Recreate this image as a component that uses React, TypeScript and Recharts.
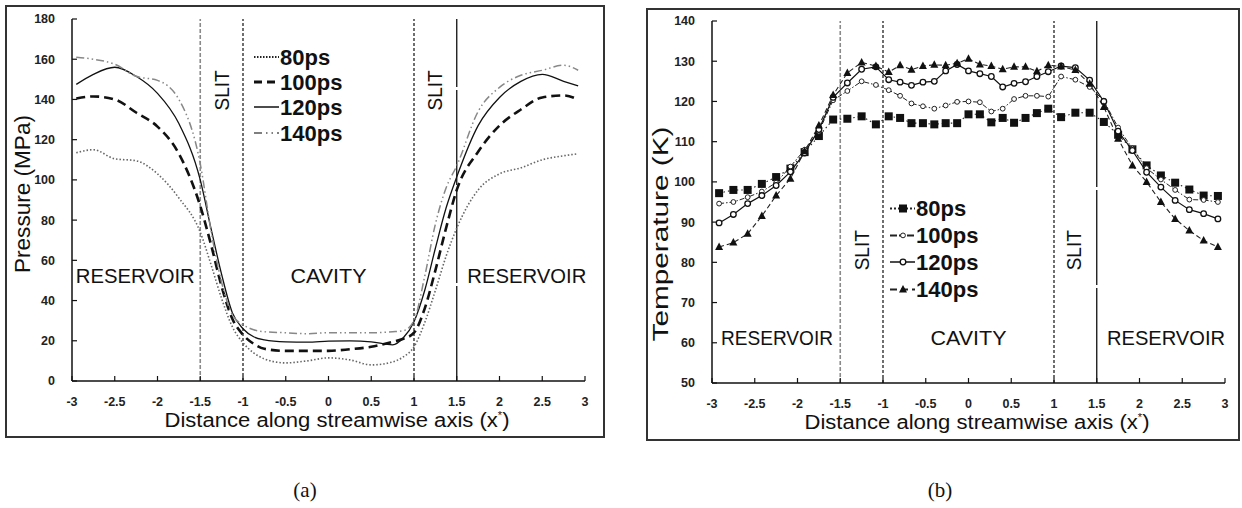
import { LineChart, Line, XAxis, YAxis, ReferenceLine, ReferenceDot, Label } from "recharts";

const FONT = '"Liberation Sans", Arial, sans-serif';

const xTicks = [-3, -2.5, -2, -1.5, -1, -0.5, 0, 0.5, 1, 1.5, 2, 2.5, 3];
const pTicks = [0, 20, 40, 60, 80, 100, 120, 140, 160, 180];
const tTicks = [50, 60, 70, 80, 90, 100, 110, 120, 130, 140];
const seriesNames = ["80ps", "100ps", "120ps", "140ps"];

// pressure (MPa) along the streamwise axis
const pX = [-2.95, -2.75, -2.5, -2.25, -2, -1.75, -1.5, -1.375, -1.25, -1.125, -1, -0.875, -0.75, -0.5, -0.25, 0, 0.25, 0.5, 0.75, 0.875, 1, 1.125, 1.25, 1.375, 1.5, 1.75, 2, 2.25, 2.5, 2.75, 2.92];
const p80 = [113.5, 115, 110.5, 109.5, 103, 91, 74, 58, 41, 27, 19, 14, 11, 9, 10, 11.5, 10.5, 8, 9.5, 12, 17, 29, 45, 62, 76, 95, 103, 106, 110, 112, 113];
const p100 = [140.5, 141.5, 140, 133.5, 126.5, 113, 87, 68, 47, 31, 23, 18.5, 16, 15, 15, 15, 15.8, 17, 19.5, 21, 24, 36, 55, 76, 95, 114, 127, 135, 141, 142, 140];
const p120 = [147.5, 152.5, 156, 151.5, 143, 128, 100, 76, 53, 34, 26, 22, 20.5, 19.5, 19.3, 19.8, 20, 19.5, 18, 21.5, 29.5, 45, 66, 86, 101.5, 127, 141, 149, 152.5, 149, 146.7];
const p140 = [161, 160, 157.5, 151.5, 149.5, 140, 108, 75, 49, 33, 28, 25.5, 24.5, 24, 23.5, 24, 24, 24, 24.5, 25, 30, 52, 78, 96, 107, 134, 146, 152, 154.5, 157, 154.5];

// temperature (K), bin centres: reservoir 1/6, slit 1/6, cavity 2/15
const tX = [-2.917, -2.75, -2.583, -2.417, -2.25, -2.083, -1.917, -1.75, -1.583, -1.417, -1.25, -1.083, -0.933, -0.8, -0.667, -0.533, -0.4, -0.267, -0.133, 0, 0.133, 0.267, 0.4, 0.533, 0.667, 0.8, 0.933, 1.083, 1.25, 1.417, 1.583, 1.75, 1.917, 2.083, 2.25, 2.417, 2.583, 2.75, 2.917];
const t80 = [97.2, 98, 98, 99.5, 101.2, 103.3, 107.4, 111.4, 115.5, 115.7, 116.3, 114.3, 116.3, 115.9, 114.6, 114.6, 114.3, 114.6, 114.6, 116.8, 116.8, 114.8, 115.9, 114.7, 115.9, 117.1, 118.2, 116.1, 117.2, 117.2, 114.9, 111.7, 108.1, 104.1, 101.6, 99.8, 98.1, 96.6, 96.5];
const t100 = [94.6, 95, 96.2, 97.6, 99.8, 103.8, 108, 112.5, 120.3, 122.6, 125, 124.1, 122.8, 121.4, 119.5, 118.8, 118.2, 119, 119.9, 120, 119.8, 117.5, 118.2, 120.6, 121.4, 121.4, 121.2, 126.2, 125.4, 123.6, 120.2, 113.5, 108.3, 103.4, 100.6, 98, 95.6, 95.5, 95];
const t120 = [89.8, 91.9, 94.6, 96.6, 99.1, 102.5, 107.2, 113, 121, 124.6, 128, 128.6, 125.4, 124.8, 124, 124.8, 125, 127.6, 129.2, 127.6, 126.9, 126.2, 123.6, 124.5, 124.9, 126.2, 127.4, 128.8, 128.4, 125.3, 120, 112.6, 107.8, 102.4, 98.7, 95.4, 93.1, 92.1, 90.8];
const t140 = [83.8, 84.9, 87.1, 91.5, 96.6, 100.8, 107.6, 114, 121.6, 127.1, 129.7, 128.8, 127.3, 129, 127.9, 128.8, 129.1, 129, 129.5, 130.6, 129.2, 128.8, 128, 128.6, 128.6, 127.5, 129, 128.7, 127.8, 124.4, 118.6, 110.7, 104.1, 100, 95, 90.8, 87.9, 85.4, 83.8];

const pressureRows = pX.map((x, i) => ({ x, s80: p80[i], s100: p100[i], s120: p120[i], s140: p140[i] }));
const tempRows = tX.map((x, i) => ({ x, s80: t80[i], s100: t100[i], s120: t120[i], s140: t140[i] }));

const tickStyle = { fill: "#222", fontSize: 12.5, fontWeight: 700, fontFamily: FONT };

function textMark(text: string, size: number, length: number, rotate = false) {
  return (props: any) => {
    const { cx, cy } = props;
    return (
      <text
        x={cx}
        y={cy}
        textAnchor="middle"
        dominantBaseline="central"
        fontFamily={FONT}
        fontSize={size}
        fill="#111"
        textLength={length}
        lengthAdjust="spacingAndGlyphs"
        transform={rotate ? `rotate(-90 ${cx} ${cy})` : undefined}
      >
        {text}
      </text>
    );
  };
}

function xTitle(cx: number, y: number) {
  return () => (
    <text x={cx} y={y} textAnchor="middle" fontFamily={FONT} fontSize={20} fill="#111" textLength={345} lengthAdjust="spacingAndGlyphs">
      Distance along streamwise axis (x<tspan fontSize={10} dy={-8}>*</tspan>
      <tspan dy={8}>)</tspan>
    </text>
  );
}

function yTitle(text: string, x: number, cy: number, length: number) {
  return () => (
    <text
      x={x}
      y={cy}
      textAnchor="middle"
      fontFamily={FONT}
      fontSize={22}
      fill="#111"
      textLength={length}
      lengthAdjust="spacingAndGlyphs"
      transform={`rotate(-90 ${x} ${cy})`}
    >
      {text}
    </text>
  );
}

function SquareDot(props: any) {
  const { cx, cy, index } = props;
  return <rect key={`sq-${index}`} x={cx - 4} y={cy - 4} width={8} height={8} fill="#111" />;
}

function OpenSmall(props: any) {
  const { cx, cy, index } = props;
  return <circle key={`os-${index}`} cx={cx} cy={cy} r={2.4} fill="#fff" stroke="#222" strokeWidth={1} />;
}

function OpenRing(props: any) {
  const { cx, cy, index } = props;
  return <circle key={`or-${index}`} cx={cx} cy={cy} r={2.8} fill="#fff" stroke="#111" strokeWidth={1.3} />;
}

function TriangleDot(props: any) {
  const { cx, cy, index } = props;
  return <polygon key={`tr-${index}`} points={`${cx},${cy - 4.5} ${cx - 4},${cy + 3} ${cx + 4},${cy + 3}`} fill="#111" />;
}

function PressureChart() {
  return (
    <LineChart width={620} height={460} data={pressureRows} margin={{ top: 19, right: 35, bottom: 49, left: 32 }}>
      <XAxis
        dataKey="x"
        type="number"
        domain={[-3, 3]}
        ticks={xTicks}
        interval={0}
        height={30}
        tickSize={-5}
        tickMargin={21}
        tick={tickStyle}
        axisLine={{ stroke: "#111", strokeWidth: 1.5 }}
        tickLine={{ stroke: "#111", strokeWidth: 1.2 }}
      >
        <Label content={xTitle(337, 427)} />
      </XAxis>
      <YAxis
        type="number"
        domain={[0, 180]}
        ticks={pTicks}
        interval={0}
        width={40}
        tickSize={-5}
        tickMargin={22}
        tick={tickStyle}
        axisLine={{ stroke: "#111", strokeWidth: 1.5 }}
        tickLine={{ stroke: "#111", strokeWidth: 1.2 }}
      >
        <Label content={yTitle("Pressure (MPa)", 30, 194, 158)} />
      </YAxis>
      <ReferenceLine x={-1.5} stroke="#8a8a8a" strokeWidth={1.6} strokeDasharray="4 2" />
      <ReferenceLine x={-1} stroke="#222" strokeWidth={1.3} strokeDasharray="3 2" />
      <ReferenceLine x={1} stroke="#222" strokeWidth={1.3} strokeDasharray="3 2" />
      <ReferenceLine x={1.5} stroke="#111" strokeWidth={1.3} strokeDasharray="95 3" />
      <ReferenceDot x={-1.25} y={144.5} r={0} shape={textMark("SLIT", 20, 40, true)} />
      <ReferenceDot x={1.25} y={144.5} r={0} shape={textMark("SLIT", 20, 40, true)} />
      <ReferenceDot x={-2.26} y={52.5} r={0} shape={textMark("RESERVOIR", 21, 119)} />
      <ReferenceDot x={0} y={52.5} r={0} shape={textMark("CAVITY", 21, 76)} />
      <ReferenceDot x={2.32} y={52.5} r={0} shape={textMark("RESERVOIR", 21, 119)} />
      <Line dataKey="s80" type="monotone" stroke="#666" strokeWidth={1.6} strokeDasharray="1.5 2" dot={false} activeDot={false} isAnimationActive={false} />
      <Line dataKey="s100" type="monotone" stroke="#111" strokeWidth={2.6} strokeDasharray="9 5" dot={false} activeDot={false} isAnimationActive={false} />
      <Line dataKey="s120" type="monotone" stroke="#111" strokeWidth={1.3} dot={false} activeDot={false} isAnimationActive={false} />
      <Line dataKey="s140" type="monotone" stroke="#888" strokeWidth={1.5} strokeDasharray="8 3 1.5 3 1.5 3" dot={false} activeDot={false} isAnimationActive={false} />
    </LineChart>
  );
}

function TemperatureChart() {
  return (
    <LineChart width={612} height={460} data={tempRows} margin={{ top: 21, right: 17, bottom: 47, left: 42 }}>
      <XAxis
        dataKey="x"
        type="number"
        domain={[-3, 3]}
        ticks={xTicks}
        interval={0}
        height={30}
        tickSize={-5}
        tickMargin={21}
        tick={tickStyle}
        axisLine={{ stroke: "#111", strokeWidth: 1.5 }}
        tickLine={{ stroke: "#111", strokeWidth: 1.2 }}
      >
        <Label content={xTitle(347, 429)} />
      </XAxis>
      <YAxis
        type="number"
        domain={[50, 140]}
        ticks={tTicks}
        interval={0}
        width={40}
        tickSize={-5}
        tickMargin={22}
        tick={tickStyle}
        axisLine={{ stroke: "#111", strokeWidth: 1.5 }}
        tickLine={{ stroke: "#111", strokeWidth: 1.2 }}
      >
        <Label content={yTitle("Temperature (K)", 38, 234, 215)} />
      </YAxis>
      <ReferenceLine x={-1.5} stroke="#8a8a8a" strokeWidth={1.6} strokeDasharray="4 2" />
      <ReferenceLine x={-1} stroke="#222" strokeWidth={1.3} strokeDasharray="3 2" />
      <ReferenceLine x={1} stroke="#222" strokeWidth={1.3} strokeDasharray="3 2" />
      <ReferenceLine x={1.5} stroke="#111" strokeWidth={1.3} strokeDasharray="95 3" />
      <ReferenceDot x={-1.25} y={83} r={0} shape={textMark("SLIT", 20, 40, true)} />
      <ReferenceDot x={1.23} y={83} r={0} shape={textMark("SLIT", 20, 40, true)} />
      <ReferenceDot x={-2.24} y={61.3} r={0} shape={textMark("RESERVOIR", 21, 112)} />
      <ReferenceDot x={0} y={61.3} r={0} shape={textMark("CAVITY", 21, 76)} />
      <ReferenceDot x={2.31} y={61.3} r={0} shape={textMark("RESERVOIR", 21, 118)} />
      <Line dataKey="s80" type="linear" stroke="#222" strokeWidth={1.1} strokeDasharray="1.5 3" dot={SquareDot} activeDot={false} isAnimationActive={false} />
      <Line dataKey="s100" type="linear" stroke="#222" strokeWidth={1} strokeDasharray="5 2 1.5 2" dot={OpenSmall} activeDot={false} isAnimationActive={false} />
      <Line dataKey="s120" type="linear" stroke="#111" strokeWidth={1.2} dot={OpenRing} activeDot={false} isAnimationActive={false} />
      <Line dataKey="s140" type="linear" stroke="#222" strokeWidth={1.1} strokeDasharray="5 3" dot={TriangleDot} activeDot={false} isAnimationActive={false} />
    </LineChart>
  );
}

const legendText = { fontFamily: FONT, fontSize: 22, fontWeight: 700, fill: "#111", dominantBaseline: "central" } as const;

function PressureLegend() {
  const rows = [17, 42, 67, 93];
  return (
    <svg width={130} height={110} style={{ position: "absolute", left: 250, top: 40 }}>
      <line x1={4} x2={29} y1={rows[0]} y2={rows[0]} stroke="#222" strokeWidth={2} strokeDasharray="1.5 1.5" />
      <line x1={4} x2={29} y1={rows[1]} y2={rows[1]} stroke="#111" strokeWidth={3} strokeDasharray="8 5" />
      <line x1={4} x2={29} y1={rows[2]} y2={rows[2]} stroke="#111" strokeWidth={1.5} />
      <line x1={4} x2={29} y1={rows[3]} y2={rows[3]} stroke="#555" strokeWidth={1.5} strokeDasharray="8 4 1.5 4 1.5 4" />
      {seriesNames.map((n, i) => (
        <text key={n} x={30} y={rows[i]} {...legendText}>{n}</text>
      ))}
    </svg>
  );
}

function TemperatureLegend() {
  const rows = [18.5, 45.4, 72, 99.5];
  const mid = 18;
  return (
    <svg width={120} height={120} style={{ position: "absolute", left: 885, top: 190 }}>
      <line x1={5} x2={30} y1={rows[0]} y2={rows[0]} stroke="#222" strokeWidth={2} strokeDasharray="2 2" />
      <SquareDot cx={mid} cy={rows[0]} index={0} />
      <line x1={5} x2={30} y1={rows[1]} y2={rows[1]} stroke="#222" strokeWidth={2} strokeDasharray="7 2 6 2" />
      <OpenSmall cx={mid} cy={rows[1]} index={1} />
      <line x1={5} x2={30} y1={rows[2]} y2={rows[2]} stroke="#111" strokeWidth={1.5} />
      <OpenRing cx={mid} cy={rows[2]} index={2} />
      <line x1={5} x2={30} y1={rows[3]} y2={rows[3]} stroke="#222" strokeWidth={2} strokeDasharray="7 4" />
      <TriangleDot cx={mid} cy={rows[3]} index={3} />
      {seriesNames.map((n, i) => (
        <text key={n} x={31} y={rows[i]} {...legendText}>{n}</text>
      ))}
    </svg>
  );
}

const caption = {
  position: "absolute" as const,
  top: 478,
  width: 60,
  textAlign: "center" as const,
  fontFamily: '"Liberation Serif", "DejaVu Serif", serif',
  fontSize: 21,
  color: "#111",
};

export default function App() {
  return (
    <div style={{ position: "absolute", left: 0, top: 0, width: 1242, height: 508, background: "#fff", overflow: "hidden" }}>
      <div style={{ position: "absolute", left: 5, top: 5, width: 600, height: 433, border: "2px solid #333", boxSizing: "border-box" }} />
      <div style={{ position: "absolute", left: 646, top: 8, width: 594, height: 433, border: "2px solid #333", boxSizing: "border-box" }} />
      <div style={{ position: "absolute", left: 0, top: 0 }}>
        <PressureChart />
      </div>
      <div style={{ position: "absolute", left: 630, top: 0 }}>
        <TemperatureChart />
      </div>
      <PressureLegend />
      <TemperatureLegend />
      <div style={{ ...caption, left: 275 }}>(a)</div>
      <div style={{ ...caption, left: 910 }}>(b)</div>
    </div>
  );
}
